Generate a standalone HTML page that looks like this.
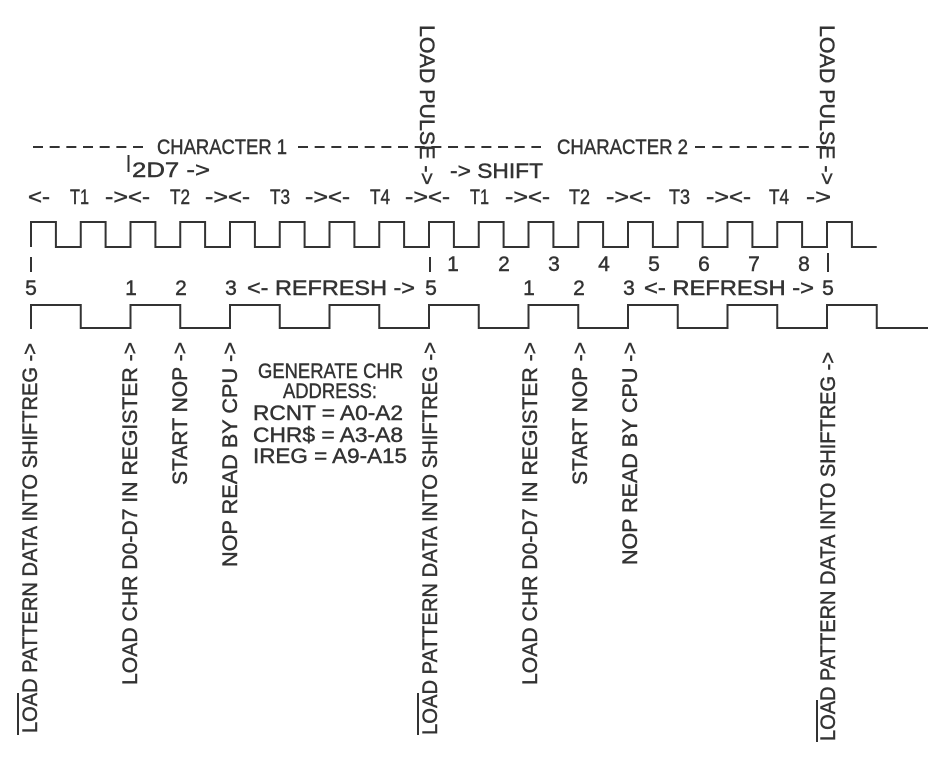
<!DOCTYPE html>
<html>
<head>
<meta charset="utf-8">
<style>
  html,body{margin:0;padding:0;background:#fff;}
  svg{display:block;}
  text{font-family:"Liberation Sans","DejaVu Sans",sans-serif;font-size:21px;fill:#333;stroke:#333;stroke-width:0.45px;}
</style>
</head>
<body>
<svg width="952" height="770" viewBox="0 0 952 770" xmlns="http://www.w3.org/2000/svg">
  <rect width="952" height="770" fill="#fff"/>
  <g stroke="#333" stroke-width="2" fill="none">
    <!-- dashed rows -->
    <line x1="33" y1="147" x2="143" y2="147" stroke-dasharray="10 6.67"/>
    <line x1="298" y1="147" x2="541" y2="147" stroke-dasharray="10 6.67"/>
    <line x1="695" y1="147" x2="826" y2="147" stroke-dasharray="10 7.3"/>
    <!-- small bars -->
    <line x1="128.5" y1="155" x2="128.5" y2="172"/>
    <line x1="31" y1="257" x2="31" y2="272"/>
    <line x1="430" y1="257" x2="430" y2="272"/>
    <line x1="828" y1="253" x2="828" y2="272"/>
    <!-- clock waveform -->
    <path d="M31,247 V222 H55.9 V247 H80.75 V222 H105.6 V247 H130.5 V222 H155.4 V247 H180.25 V222 H205.1 V247 H230 V222 H254.9 V247 H279.75 V222 H304.6 V247 H329.5 V222 H354.4 V247 H379.25 V222 H404.1 V247 H429 V222 H453.9 V247 H478.75 V222 H503.6 V247 H528.5 V222 H553.4 V247 H578.25 V222 H603.1 V247 H628 V222 H652.9 V247 H677.75 V222 H702.6 V247 H727.5 V222 H752.4 V247 H777.25 V222 H802.1 V247 H827 V222 H851.9 V247 H876.75"/>
    <!-- second waveform -->
    <path d="M31,329 V305 H80.75 V328 H130.5 V305 H180.25 V328 H230 V305 H279.75 V328 H329.5 V305 H379.25 V328 H429 V305 H478.75 V328 H528.5 V305 H578.25 V328 H628 V305 H677.75 V328 H727.5 V305 H777.25 V328 H827 V305 H876.75 V328 H928"/>
    <!-- overlines on LOAD -->
    <line x1="18" y1="693" x2="18" y2="735"/>
    <line x1="418" y1="693" x2="418" y2="735"/>
    <line x1="817" y1="700" x2="817" y2="742"/>
  </g>

  <!-- LOAD PULSE vertical (top) -->
  <text transform="translate(420,25) rotate(90)" textLength="160" lengthAdjust="spacingAndGlyphs">LOAD PULSE -&gt;</text>
  <text transform="translate(820,25) rotate(90)" textLength="160" lengthAdjust="spacingAndGlyphs">LOAD PULSE -&gt;</text>

  <!-- Character headers -->
  <text x="157" y="154" textLength="130" lengthAdjust="spacingAndGlyphs">CHARACTER 1</text>
  <text x="557" y="154" textLength="131" lengthAdjust="spacingAndGlyphs">CHARACTER 2</text>

  <text x="132" y="177" textLength="78" lengthAdjust="spacingAndGlyphs">2D7 -&gt;</text>
  <text x="450" y="178" textLength="93" lengthAdjust="spacingAndGlyphs">-&gt; SHIFT</text>

  <!-- T row -->
  <text x="28" y="204" textLength="22" lengthAdjust="spacingAndGlyphs">&lt;-</text>
  <text x="70" y="204" textLength="19" lengthAdjust="spacingAndGlyphs">T1</text>
  <text x="170" y="204" textLength="20" lengthAdjust="spacingAndGlyphs">T2</text>
  <text x="270" y="204" textLength="20" lengthAdjust="spacingAndGlyphs">T3</text>
  <text x="370" y="204" textLength="20" lengthAdjust="spacingAndGlyphs">T4</text>
  <text x="470" y="204" textLength="19" lengthAdjust="spacingAndGlyphs">T1</text>
  <text x="569" y="204" textLength="21" lengthAdjust="spacingAndGlyphs">T2</text>
  <text x="669" y="204" textLength="21" lengthAdjust="spacingAndGlyphs">T3</text>
  <text x="769" y="204" textLength="20" lengthAdjust="spacingAndGlyphs">T4</text>

  <text x="105" y="204" textLength="23" lengthAdjust="spacingAndGlyphs">-&gt;</text>
  <text x="128" y="204" textLength="22" lengthAdjust="spacingAndGlyphs">&lt;-</text>
  <text x="205" y="204" textLength="23" lengthAdjust="spacingAndGlyphs">-&gt;</text>
  <text x="228" y="204" textLength="22" lengthAdjust="spacingAndGlyphs">&lt;-</text>
  <text x="305" y="204" textLength="23" lengthAdjust="spacingAndGlyphs">-&gt;</text>
  <text x="328" y="204" textLength="22" lengthAdjust="spacingAndGlyphs">&lt;-</text>
  <text x="405" y="204" textLength="23" lengthAdjust="spacingAndGlyphs">-&gt;</text>
  <text x="428" y="204" textLength="22" lengthAdjust="spacingAndGlyphs">&lt;-</text>
  <text x="505" y="204" textLength="23" lengthAdjust="spacingAndGlyphs">-&gt;</text>
  <text x="528" y="204" textLength="22" lengthAdjust="spacingAndGlyphs">&lt;-</text>
  <text x="606" y="204" textLength="23" lengthAdjust="spacingAndGlyphs">-&gt;</text>
  <text x="629" y="204" textLength="22" lengthAdjust="spacingAndGlyphs">&lt;-</text>
  <text x="706" y="204" textLength="23" lengthAdjust="spacingAndGlyphs">-&gt;</text>
  <text x="729" y="204" textLength="22" lengthAdjust="spacingAndGlyphs">&lt;-</text>
  <text x="806" y="204" textLength="25" lengthAdjust="spacingAndGlyphs">-&gt;</text>

  <!-- upper number row -->
  <g text-anchor="middle">
    <text x="453" y="271">1</text>
    <text x="504" y="271">2</text>
    <text x="554" y="271">3</text>
    <text x="604" y="271">4</text>
    <text x="654" y="271">5</text>
    <text x="704" y="271">6</text>
    <text x="754" y="271">7</text>
    <text x="804" y="271">8</text>
    <!-- lower number row -->
    <text x="31" y="295">5</text>
    <text x="131" y="295">1</text>
    <text x="181" y="295">2</text>
    <text x="231" y="295">3</text>
    <text x="431" y="295">5</text>
    <text x="529" y="295">1</text>
    <text x="579" y="295">2</text>
    <text x="629" y="295">3</text>
    <text x="828" y="295">5</text>
  </g>
  <text x="247" y="295" textLength="168" lengthAdjust="spacingAndGlyphs">&lt;- REFRESH -&gt;</text>
  <text x="644" y="295" textLength="170" lengthAdjust="spacingAndGlyphs">&lt;- REFRESH -&gt;</text>

  <!-- middle block -->
  <text x="258" y="378" textLength="145" lengthAdjust="spacingAndGlyphs">GENERATE CHR</text>
  <text x="283" y="398" textLength="94" lengthAdjust="spacingAndGlyphs">ADDRESS:</text>
  <text x="253" y="420" textLength="150" lengthAdjust="spacingAndGlyphs">RCNT = A0-A2</text>
  <text x="253" y="442" textLength="150" lengthAdjust="spacingAndGlyphs">CHR$ = A3-A8</text>
  <text x="253" y="463" textLength="154" lengthAdjust="spacingAndGlyphs">IREG = A9-A15</text>

  <!-- vertical bottom labels -->
  <text transform="translate(37,733) rotate(-90)" textLength="390" lengthAdjust="spacingAndGlyphs">LOAD PATTERN DATA INTO SHIFTREG -&gt;</text>
  <text transform="translate(137,685) rotate(-90)" textLength="343" lengthAdjust="spacingAndGlyphs">LOAD CHR D0-D7 IN REGISTER -&gt;</text>
  <text transform="translate(187,485) rotate(-90)" textLength="143" lengthAdjust="spacingAndGlyphs">START NOP -&gt;</text>
  <text transform="translate(237,567) rotate(-90)" textLength="225" lengthAdjust="spacingAndGlyphs">NOP READ BY CPU -&gt;</text>

  <text transform="translate(437,735) rotate(-90)" textLength="393" lengthAdjust="spacingAndGlyphs">LOAD PATTERN DATA INTO SHIFTREG -&gt;</text>
  <text transform="translate(537,685) rotate(-90)" textLength="343" lengthAdjust="spacingAndGlyphs">LOAD CHR D0-D7 IN REGISTER -&gt;</text>
  <text transform="translate(587,485) rotate(-90)" textLength="143" lengthAdjust="spacingAndGlyphs">START NOP -&gt;</text>
  <text transform="translate(637,565) rotate(-90)" textLength="223" lengthAdjust="spacingAndGlyphs">NOP READ BY CPU -&gt;</text>

  <text transform="translate(835,741) rotate(-90)" textLength="389" lengthAdjust="spacingAndGlyphs">LOAD PATTERN DATA INTO SHIFTREG -&gt;</text>
</svg>
</body>
</html>
